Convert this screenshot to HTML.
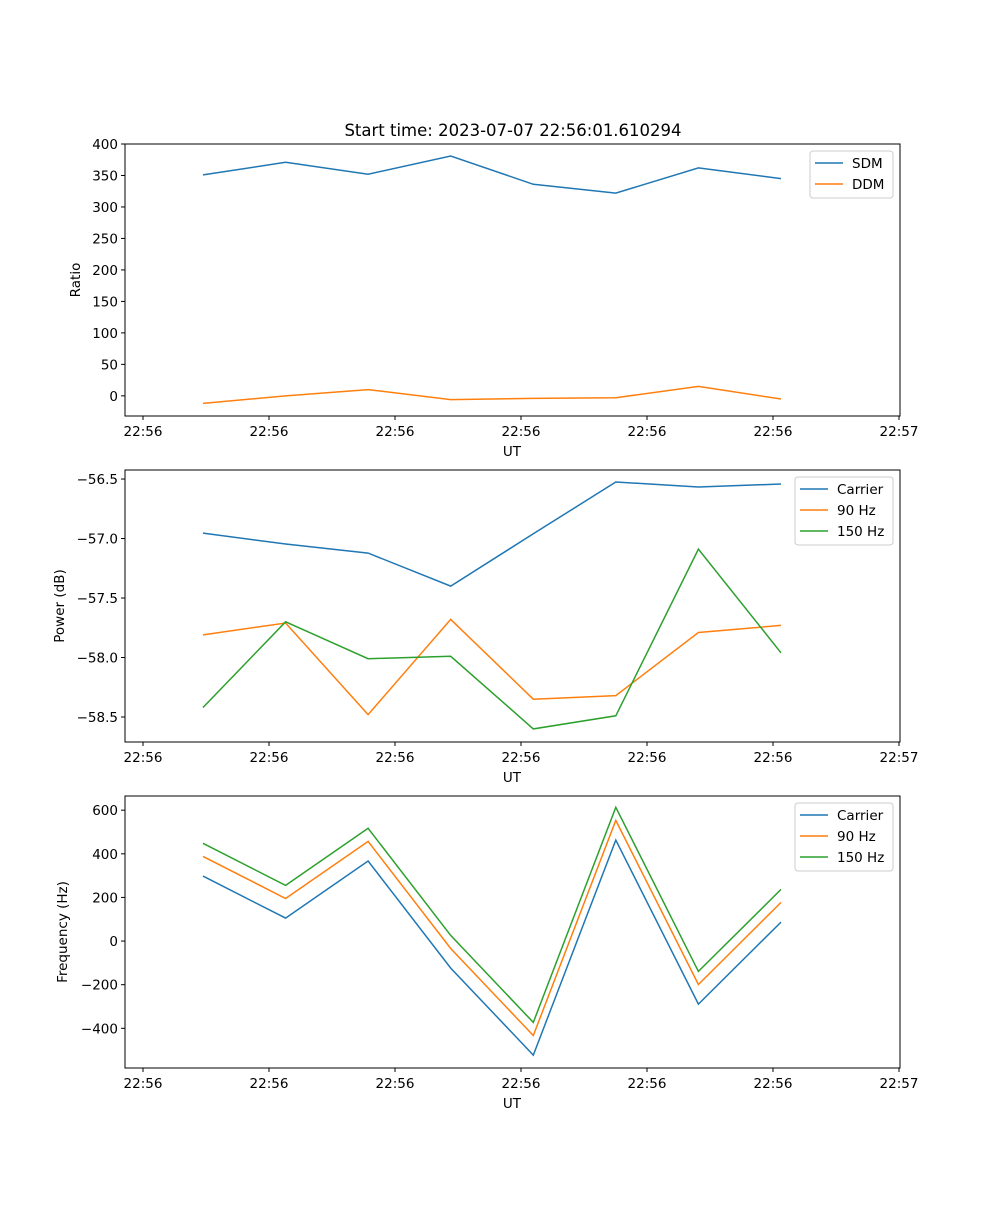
<!DOCTYPE html>
<html><head><meta charset="utf-8"><style>
body{margin:0;background:#fff}
svg text{font-family:"DejaVu Sans","Liberation Sans",sans-serif;font-size:13.5px;fill:#000}
</style></head><body>
<svg id="fig" width="1000" height="1200" xmlns="http://www.w3.org/2000/svg">
<rect width="1000" height="1200" fill="#fff"/>
<text x="513" y="136" text-anchor="middle" style="font-size:16.5px">Start time: 2023-07-07 22:56:01.610294</text>
</svg>
<script>
const xTickLabels=["22:56","22:56","22:56","22:56","22:56","22:56","22:57"];
const sdm=[351,371,352,381,336,322,362,345];
const ddm=[-12,0,10,-6,-4,-3,15,-5];
const pCarrier=[-56.954,-57.046,-57.122,-57.40,-56.96,-56.525,-56.567,-56.542];
const p90=[-57.81,-57.71,-58.48,-57.68,-58.35,-58.32,-57.79,-57.73];
const p150=[-58.42,-57.70,-58.01,-57.99,-58.60,-58.49,-57.09,-57.96];
const fCarrier=[298,105,367,-124,-523,463,-289,87];
const f90=[388,195,457,-34,-433,553,-199,177];
const f150=[448,255,517,26,-373,613,-139,237];
const yTicks1=[0,50,100,150,200,250,300,350,400];
const yTicks2=[-58.5,-58.0,-57.5,-57.0,-56.5];
const yTicks3=[-400,-200,0,200,400,600];

const NS="http://www.w3.org/2000/svg";
const svg=document.getElementById('fig');
const X0=125,X1=900;
const xScale=i=>203+i*82.57;
const xTickPos=i=>143+i*126;
function el(t,a,p){const e=document.createElementNS(NS,t);for(const k in a)e.setAttribute(k,a[k]);(p||svg).appendChild(e);return e;}
function panel(name,top,ymin,ymax,yTicks,fmt,ylabel,series,legend){
  const g=el('g',{});
  
  
  const bot=top+272;
  const ys=v=>bot-(v-ymin)/(ymax-ymin)*272;
  series.forEach(s=>{
    const pts=s.data.map((v,i)=>xScale(i).toFixed(1)+','+ys(v).toFixed(1)).join(' ');
    const pl=el('polyline',{points:pts,fill:'none',stroke:s.color,'stroke-width':1.5},g);
    
    
  });
  el('rect',{x:X0,y:top,width:X1-X0,height:272,fill:'none',stroke:'#000','stroke-width':1},g);
  yTicks.forEach(v=>{const y=ys(v);el('line',{x1:X0-4,x2:X0,y1:y,y2:y,stroke:'#000'},g);
    const t=el('text',{x:X0-7,y:y+5,'text-anchor':'end'},g);t.textContent=fmt(v);
    
    });
  xTickLabels.forEach((l,i)=>{const x=xTickPos(i);el('line',{x1:x,x2:x,y1:bot,y2:bot+4,stroke:'#000'},g);
    const t=el('text',{x:x,y:bot+20,'text-anchor':'middle'},g);t.textContent=l;
    
    });
  const xl=el('text',{x:512,y:bot+40,'text-anchor':'middle'},g);xl.textContent='UT';
  
  
  const yl=el('text',{x:0,y:0,'text-anchor':'middle',transform:`translate(${legend.yx},${top+136}) rotate(-90)`},g);yl.textContent=ylabel;
  
  
  const lg=el('g',{},g);
  
  
  const lh=series.length*21+5;
  el('rect',{x:legend.x,y:top+7,width:893-legend.x,height:lh,rx:3,fill:'#fff',stroke:'#ccc'},lg);
  series.forEach((s,i)=>{const y=top+19+i*21;
    el('line',{x1:legend.x+5,x2:legend.x+33,y1:y,y2:y,stroke:s.color,'stroke-width':1.5},lg);
    const t=el('text',{x:legend.x+42,y:y+5},lg);t.textContent=s.label;
    
    });
}
const B='#1f77b4',O='#ff7f0e',G='#2ca02c';
panel('ratio-panel',144,-32,400,yTicks1,v=>String(v),'Ratio',
  [{id:'sdm-line',data:sdm,color:B,label:'SDM'},{id:'ddm-line',data:ddm,color:O,label:'DDM'}],{x:810,yx:80});
panel('power-panel',470,-58.71,-56.424,yTicks2,v=>'\u2212'+Math.abs(v).toFixed(1),'Power (dB)',
  [{id:'power-carrier-line',data:pCarrier,color:B,label:'Carrier'},{id:'power-90hz-line',data:p90,color:O,label:'90 Hz'},{id:'power-150hz-line',data:p150,color:G,label:'150 Hz'}],{x:795,yx:64});
panel('frequency-panel',796,-582,665,yTicks3,v=>v<0?'\u2212'+Math.abs(v):String(v),'Frequency (Hz)',
  [{id:'freq-carrier-line',data:fCarrier,color:B,label:'Carrier'},{id:'freq-90hz-line',data:f90,color:O,label:'90 Hz'},{id:'freq-150hz-line',data:f150,color:G,label:'150 Hz'}],{x:795,yx:67});
</script>
</body></html>
